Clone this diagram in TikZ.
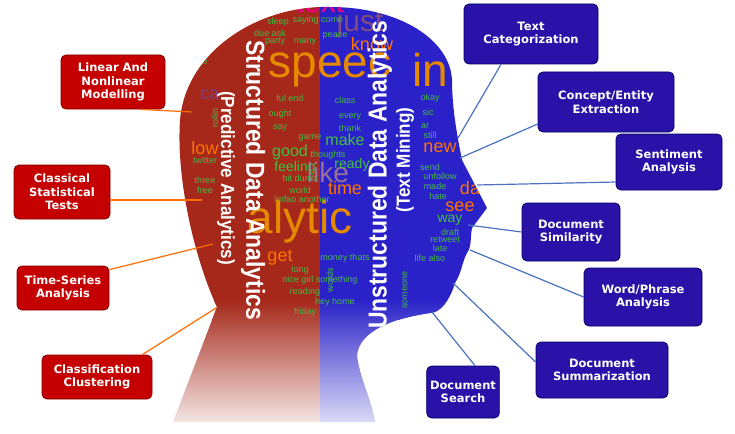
\documentclass[tikz,border=0pt]{standalone}
\usepackage{fontspec}
\setmainfont{DejaVu Sans}
\newfontfamily\arial{Liberation Sans}
\begin{document}
\begin{tikzpicture}[x=1pt,y=-1pt,
 lbox/.style={draw=red!50!black,fill=lred,rounded corners=5pt,text=white,font=\bfseries\fontsize{11.5}{13.5}\selectfont,align=center,line width=0.8pt},
 rbox/.style={draw=blue!40!black,fill=bblue,rounded corners=5pt,text=white,font=\bfseries\fontsize{11.5}{13.5}\selectfont,align=center,line width=0.8pt},
 lline/.style={draw=orange!85!red,line width=1.2pt},
 rline/.style={draw=lblue,line width=1.2pt},
 wd/.style={font=\arial\fontsize{9}{9}\selectfont,text=green!45!gray,inner sep=0}]
\definecolor{hred}{HTML}{A5281A}
\definecolor{hblue}{HTML}{2A22C8}
\definecolor{bblue}{HTML}{2A12A8}
\definecolor{lred}{HTML}{C40000}
\definecolor{lblue}{HTML}{4A72C0}
\useasboundingbox (0,0) rectangle (735,433);
\fill[white] (0,0) rectangle (735,433);
\def\headpath{(173,422) -- (217,307) .. controls (195,260) and (176,180) .. (180,120) .. controls (186,50) and (260,5) .. (330,7) .. controls (400,7) and (450,40) .. (452,80) .. controls (452,110) and (458,140) .. (462,160) -- (487,208) -- (472,228) .. controls (470,238) and (472,246) .. (467,253) .. controls (462,262) and (462,272) .. (455,283) .. controls (450,300) and (440,313) .. (430,313) .. controls (395,318) and (360,330) .. (357,355) .. controls (360,380) and (372,400) .. (375,422) -- cycle}
\begin{scope}
\clip \headpath;
\fill[hred] (150,0) rectangle (320,320);
\fill[hblue] (320,0) rectangle (500,320);
\shade[top color=hred,bottom color=hred!10] (150,300) rectangle (320,425);
\shade[top color=hblue,bottom color=hblue!15] (320,300) rectangle (500,425);
% word cloud
\node[font=\arial\fontsize{46}{46}\selectfont,text=orange!80!yellow!90!black] at (330,70) {speec};
\node[font=\arial\fontsize{46}{46}\selectfont,text=orange!80!yellow!90!black] at (300,222) {alytic};
\node[font=\arial\fontsize{46}{46}\selectfont,text=orange!80!yellow!90!black] at (430,70) {in};
\node[font=\arial\fontsize{30}{30}\selectfont,text=violet!40!gray] at (360,24) {just};
\node[font=\arial\fontsize{30}{30}\selectfont,text=magenta] at (320,3) {text};
\node[font=\arial\fontsize{28}{28}\selectfont,text=violet!40!gray!80!white] at (328,172) {like};
\node[font=\arial\fontsize{18}{18}\selectfont,text=orange!90!red] at (372,44) {know};
\node[font=\arial\fontsize{18}{18}\selectfont,text=orange!90!red] at (345,188) {time};
\node[font=\arial\fontsize{18}{18}\selectfont,text=orange!90!red] at (440,148) {new};
\node[font=\arial\fontsize{18}{18}\selectfont,text=orange!90!red] at (460,207) {see};
\node[font=\arial\fontsize{18}{18}\selectfont,text=orange!90!red] at (470,188) {da};
\node[font=\arial\fontsize{18}{18}\selectfont,text=orange!90!red] at (280,258) {get};
\node[font=\arial\fontsize{18}{18}\selectfont,text=orange!90!red] at (205,148) {low};
\node[font=\arial\fontsize{18}{18}\selectfont,text=violet!50!gray] at (210,95) {ca};
\node[font=\arial\fontsize{16}{16}\selectfont,text=green!50!gray] at (290,152) {good};
\node[font=\arial\fontsize{16}{16}\selectfont,text=green!50!gray] at (345,140) {make};
\node[font=\arial\fontsize{14}{14}\selectfont,text=green!50!gray] at (352,165) {ready};
\node[font=\arial\fontsize{14}{14}\selectfont,text=green!50!gray] at (295,168) {feeling};
\node[font=\arial\fontsize{14}{14}\selectfont,text=green!50!gray] at (450,220) {way};
\node[wd] at (278,22) {sleep}; \node[wd] at (318,20) {saying come};
\node[wd] at (270,33) {due ask}; \node[wd] at (305,42) {many};
\node[wd] at (275,42) {party}; \node[wd] at (335,36) {peace};
\node[wd] at (345,100) {class};
\node[wd] at (350,117) {every}; \node[wd] at (350,128) {thank};
\node[wd] at (280,114) {ought}; \node[wd] at (290,98) {ful end};
\node[wd] at (280,128) {say}; \node[wd] at (310,138) {game};
\node[wd] at (300,178) {hit dumb}; \node[wd] at (300,190) {world};
\node[wd] at (302,199) {lmfao another}; \node[wd] at (328,155) {thoughts};
\node[wd] at (345,258) {money thats}; \node[wd] at (300,270) {long};
\node[wd] at (320,280) {nice girl something}; \node[wd] at (305,292) {reading};
\node[wd] at (335,302) {hey home}; \node[wd] at (305,312) {friday};
\node[wd] at (430,98) {okay}; \node[wd] at (428,112) {sic};
\node[wd] at (425,126) {ar}; \node[wd] at (430,135) {still};
\node[wd] at (430,167) {send}; \node[wd] at (440,176) {unfollow};
\node[wd] at (435,186) {made}; \node[wd] at (438,196) {hate};
\node[wd] at (450,232) {draft}; \node[wd] at (445,240) {retweet};
\node[wd] at (440,248) {late}; \node[wd] at (430,258) {life also};
\node[wd] at (205,160) {twitter}; \node[wd] at (200,62) {one};
\node[wd] at (205,180) {three}; \node[wd] at (205,190) {free};
\node[wd,rotate=90] at (405,290) {someone};
\node[wd,rotate=90] at (330,280) {words};
\node[wd,rotate=90] at (215,118) {rollin};
% main titles
\node[font=\arial\bfseries\fontsize{26}{26}\selectfont,text=white,rotate=-90,xscale=0.88] at (253,180) {Structured Data Analytics};
\node[font=\arial\bfseries\fontsize{19}{19}\selectfont,text=white,rotate=-90,xscale=0.9] at (226,178) {(Predictive Analytics)};
\node[font=\arial\bfseries\fontsize{26}{26}\selectfont,text=white,rotate=90,xscale=0.88] at (380,175) {Unstructured Data Analytics};
\node[font=\arial\bfseries\fontsize{19}{19}\selectfont,text=white,rotate=90,xscale=0.9] at (405,160) {(Text Mining)};
\end{scope}
% left boxes
\node[lbox,minimum width=104pt,minimum height=54pt] (lin) at (113,82) {Linear And\\Nonlinear\\Modelling};
\node[lbox,minimum width=96pt,minimum height=54pt] (cls) at (62,192) {Classical\\Statistical\\Tests};
\node[lbox,minimum width=92pt,minimum height=44pt] (ts) at (63,288) {Time-Series\\Analysis};
\node[lbox,minimum width=110pt,minimum height=44pt] (cc) at (97,377) {Classification\\Clustering};
\coordinate (hl1) at (192,112); \coordinate (hl2) at (202,200);
\coordinate (hl3) at (213,244); \coordinate (hl4) at (216,308);
\draw[lline] (lin.south east) ++(-25,0) -- (hl1);
\draw[lline] (cls.east) ++(0,8) -- (hl2);
\draw[lline] (ts.north east) ++(0,4) -- (hl3);
\draw[lline] (cc.north east) ++(-10,0) -- (hl4);
% right boxes
\node[rbox,minimum width=134pt,minimum height=60pt] (tc) at (531,34) {Text\\Categorization};
\node[rbox,minimum width=136pt,minimum height=60pt] (ce) at (606,102) {Concept/Entity\\Extraction};
\node[rbox,minimum width=106pt,minimum height=56pt] (sa) at (669,162) {Sentiment\\Analysis};
\node[rbox,minimum width=98pt,minimum height=58pt] (ds) at (571,232) {Document\\Similarity};
\node[rbox,minimum width=118pt,minimum height=58pt] (wp) at (643,297) {Word/Phrase\\Analysis};
\node[rbox,minimum width=132pt,minimum height=56pt] (dsum) at (602,370) {Document\\Summarization};
\node[rbox,minimum width=72pt,minimum height=52pt] (dse) at (463,392) {Document\\Search};
\coordinate (hr1) at (458,138); \coordinate (hr2) at (460,158);
\coordinate (hr3) at (477,185); \coordinate (hr4) at (468,225);
\coordinate (hr5) at (470,250); \coordinate (hr6) at (453,283);
\coordinate (hr7) at (432,312);
\draw[rline] (tc.south) ++(-30,0) -- (hr1);
\draw[rline] (ce.west) ++(0,22) -- (hr2);
\draw[rline] (sa.west) ++(0,20) -- (hr3);
\draw[rline] (ds.west) -- (hr4);
\draw[rline] (wp.west) -- (hr5);
\draw[rline] (dsum.west) ++(0,-8) -- (hr6);
\draw[rline] (dse.north) ++(12,0) -- (hr7);
\end{tikzpicture}
\end{document}
